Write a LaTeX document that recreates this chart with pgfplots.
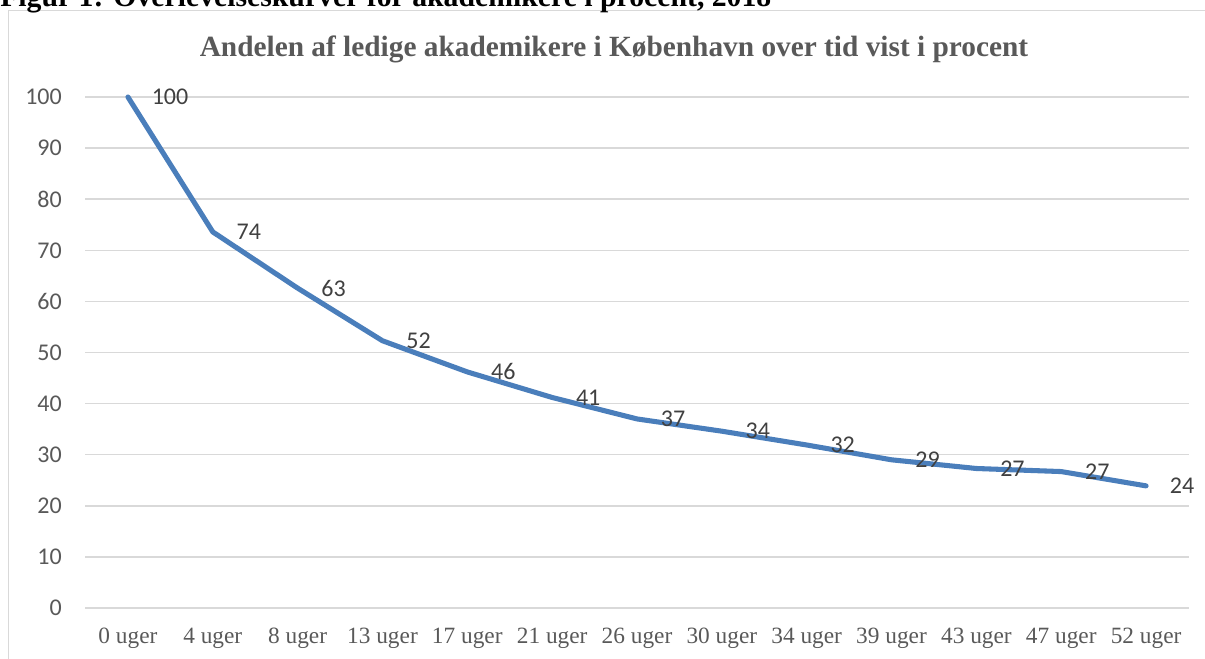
\documentclass[border=0pt]{standalone}
\usepackage{pgfplots}
\pgfplotsset{compat=1.18}
\usepackage{pgfplotstable}
\usepackage{fontspec}
\setmainfont{Liberation Serif}
\newfontfamily\calibri{Carlito}
\definecolor{linecol}{HTML}{4A7EBB}
\definecolor{gridcol}{HTML}{D9D9D9}
\definecolor{ticktext}{HTML}{595959}
\definecolor{labtext}{HTML}{404040}
\pgfplotstableread{
x y lab
0 100 100
1 73.6 74
2 62.6 63
3 52.3 52
4 46.2 46
5 41.2 41
6 37.0 37
7 34.6 34
8 31.9 32
9 29.0 29
10 27.3 27
11 26.7 27
12 23.9 24
}\datatable
\begin{document}
\begin{tikzpicture}
\draw[gridcol, line width=1.1pt] (6.375pt,-7.875pt) rectangle (915pt,-505pt);
\node[anchor=base west, inner sep=0pt, font=\bfseries\fontsize{22.3}{26}\selectfont] at (0pt,-5.25pt) {Figur 1: Overlevelseskurver for akademikere i procent, 2018};
\node[anchor=base, inner sep=0pt, text=ticktext, font=\bfseries\fontsize{22}{26}\selectfont] at (460.5pt,-42.75pt) {Andelen af ledige akademikere i København over tid vist i procent};
\begin{axis}[
  at={(64.125pt,-456pt)}, anchor=south west,
  scale only axis, width=827.25pt, height=383.25pt,
  xmin=-0.5, xmax=12.5, ymin=0, ymax=100,
  ytick={0,10,...,100},
  xtick={0,...,12},
  xticklabels={0 uger,4 uger,8 uger,13 uger,17 uger,21 uger,26 uger,30 uger,34 uger,39 uger,43 uger,47 uger,52 uger},
  axis line style={draw=none},
  major tick length=0pt,
  ymajorgrids, grid style={gridcol, line width=1.1pt},
  /pgf/number format/assume math mode=true,
  yticklabel style={anchor=east, inner sep=0pt, xshift=-17.6pt, text=ticktext, font=\calibri\fontsize{18}{21}\selectfont},
  xticklabel style={anchor=base, inner sep=0pt, yshift=-26.25pt, text=ticktext, font=\fontsize{17.5}{20}\selectfont},
  clip=false,
]
\addplot[linecol, line width=3.8pt, line join=round, line cap=round,
  nodes near coords, point meta=explicit symbolic,
  every node near coord/.style={anchor=west, inner sep=0pt, xshift=16pt, text=labtext, font=\calibri\fontsize{18}{21}\selectfont}]
  table[x=x, y=y, meta=lab] {\datatable};
\end{axis}
\pgfresetboundingbox
\useasboundingbox (0pt,0pt) rectangle (903.75pt,-494.25pt);
\end{tikzpicture}
\end{document}
